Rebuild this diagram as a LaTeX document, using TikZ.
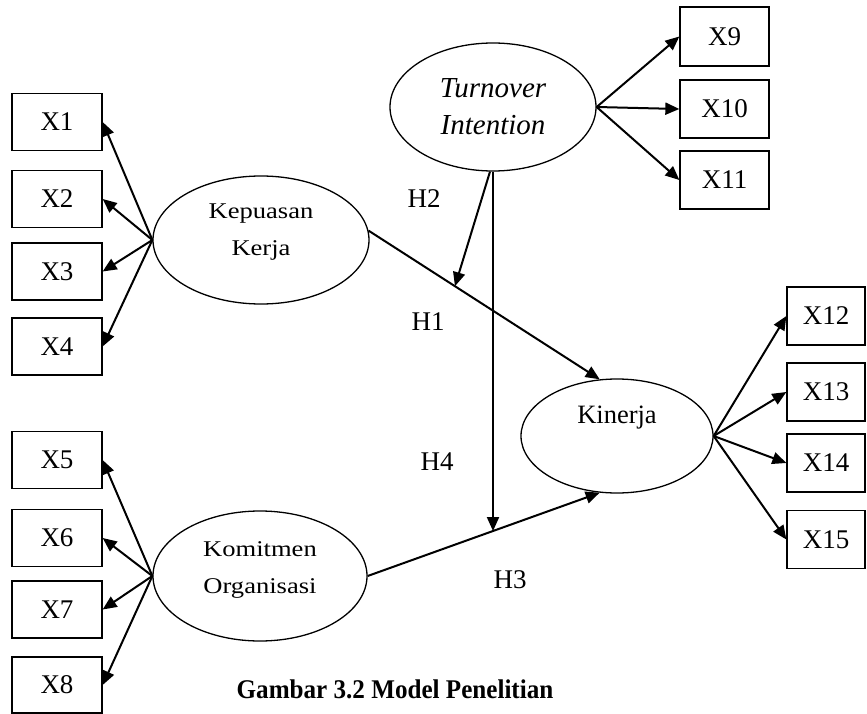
\documentclass[tikz,border=0pt]{standalone}
\usepackage{fontspec}
\setmainfont{Liberation Serif}
\newfontfamily\widefont{Liberation Serif}[FakeStretch=1.18]
\newfontfamily\capfont{Liberation Serif}[FakeStretch=0.93]
\usetikzlibrary{shapes.geometric,arrows.meta,calc}
\begin{document}
\begin{tikzpicture}[x=1pt,y=-1pt,
  ind/.style={draw,line width=1.3pt,rectangle,minimum height=57pt,inner sep=0pt,font=\fontsize{27}{30}\selectfont},
  lat/.style={draw,line width=1.3pt,ellipse,inner sep=0pt},
  arr/.style={line width=2pt,-{Triangle[length=14pt,width=12pt]}},
  hl/.style={font=\fontsize{27}{30}\selectfont},
  wtxt/.style={align=center,font=\widefont\fontsize{22.5}{37}\selectfont}]
\useasboundingbox (0,0) rectangle (867,714);
% left indicator boxes
\node[ind,minimum width=90pt] (x1) at (57,122) {X1};
\node[ind,minimum width=90pt] (x2) at (57,199) {X2};
\node[ind,minimum width=90pt] (x3) at (57,271.5) {X3};
\node[ind,minimum width=90pt] (x4) at (57,346.5) {X4};
\node[ind,minimum width=90pt] (x5) at (57,460) {X5};
\node[ind,minimum width=90pt] (x6) at (57,538) {X6};
\node[ind,minimum width=90pt] (x7) at (57,609.5) {X7};
\node[ind,minimum width=90pt,minimum height=56pt] (x8) at (57,685) {X8};
% top right boxes
\node[ind,minimum width=89pt,minimum height=59pt] (x9) at (724.5,36.5) {X9};
\node[ind,minimum width=89pt,minimum height=58pt] (x10) at (724.5,109) {X10};
\node[ind,minimum width=89pt,minimum height=58pt] (x11) at (724.5,180) {X11};
% right boxes
\node[ind,minimum width=78pt,minimum height=58pt] (x12) at (826,316) {X12};
\node[ind,minimum width=78pt,minimum height=58pt] (x13) at (826,392) {X13};
\node[ind,minimum width=78pt,minimum height=58pt] (x14) at (826,463) {X14};
\node[ind,minimum width=78pt,minimum height=58pt] (x15) at (826,539.5) {X15};
% latent variables
\node[lat,minimum width=216pt,minimum height=128pt] (kk) at (261,240) {};
\node[wtxt] (kkt) at (261,232) {Kepuasan\\Kerja};
\node[lat,minimum width=214pt,minimum height=130pt] (km) at (260,576) {};
\node[wtxt] (kmt) at (260,570) {Komitmen\\Organisasi};
\node[lat,minimum width=206pt,minimum height=128pt,align=center,
      font=\itshape\fontsize{29}{37}\selectfont] (ti) at (493,107) {Turnover\\Intention};
\node[lat,minimum width=192pt,minimum height=114pt] (kin) at (617,436) {};
\node[font=\fontsize{26.5}{30}\selectfont] (kint) at (617,418) {Kinerja};
% indicator arrows
\foreach \b in {x1,x2,x3,x4} \draw[arr] (kk.west) -- (\b.east);
\foreach \b in {x5,x6,x7,x8} \draw[arr] (km.west) -- (\b.east);
\foreach \b in {x9,x10,x11} \draw[arr] (ti.east) -- (\b.west);
\foreach \b in {x12,x13,x14,x15} \draw[arr] (kin.east) -- (\b.west);
% structural paths
\draw[arr] (kk.5) -- (kin.107);
\draw[arr] (km.east) -- (kin.-107);
\coordinate (h2t) at ($(kk.5)!0.374!(kin.107)$);
\coordinate (h4t) at ($(km.east)!0.54!(kin.-107)$);
\draw[arr] ([xshift=-3pt]ti.south) -- (h2t);
\draw[arr] (ti.south) -- (ti.south |- h4t);
% hypothesis labels
\node[hl] (h2) at (424,199) {H2};
\node[hl] (h1) at (428,322) {H1};
\node[hl] (h4) at (437,462) {H4};
\node[hl] (h3) at (510,580) {H3};
% caption
\node[font=\capfont\bfseries\fontsize{27}{30}\selectfont] (cap) at (395,689) {Gambar 3.2 Model Penelitian};
\end{tikzpicture}
\end{document}
